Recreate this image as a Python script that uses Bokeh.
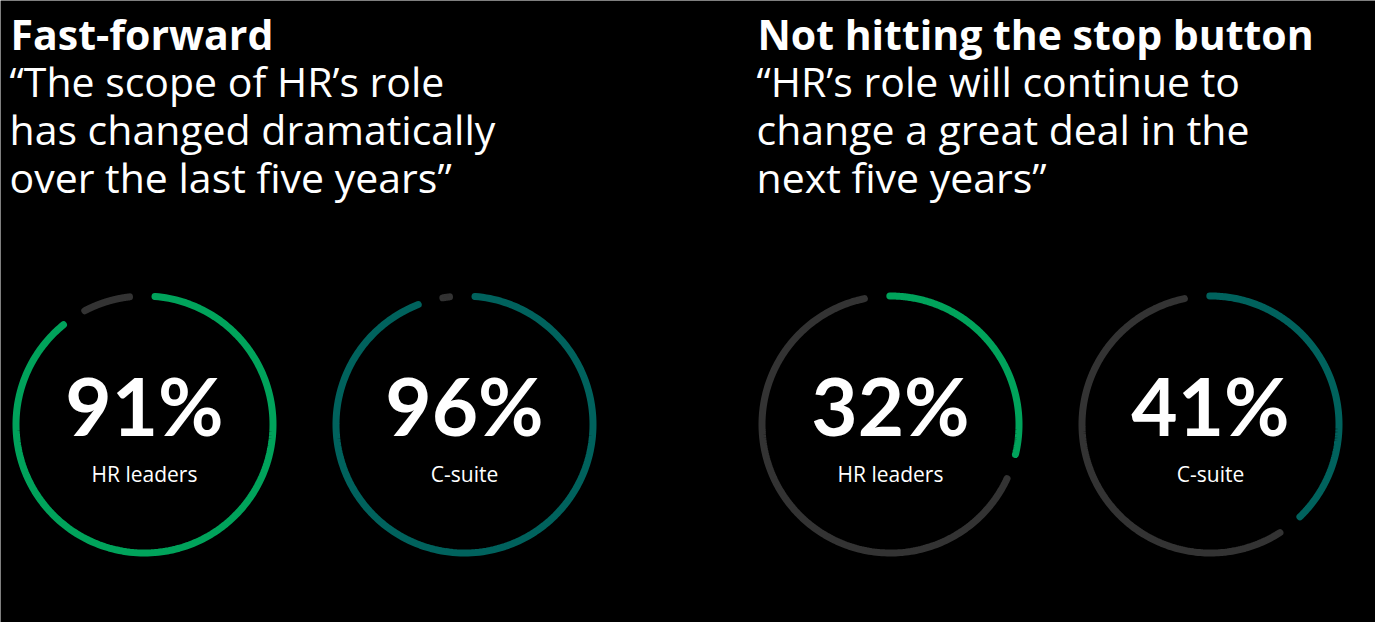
import math
from bokeh.plotting import figure
from bokeh.models import Range1d
from bokeh.core.properties import value
from bokeh.embed import file_html
from bokeh.resources import INLINE

# ---- data ----
headings = ["Fast-forward", "Not hitting the stop button"]
quotes = [
    ["\u201cThe scope of HR\u2019s role", "has changed dramatically", "over the last five years\u201d"],
    ["\u201cHR\u2019s role will continue to", "change a great deal in the", "next five years\u201d"],
]
values = [91, 96, 32, 41]
labels = ["HR leaders", "C-suite", "HR leaders", "C-suite"]
value_texts = ["91%", "96%", "32%", "41%"]

# ---- style / layout ----
GREEN = "#00A35B"
TEAL = "#00625D"
GREY = "#333333"
ring_colors = [GREEN, TEAL, GREEN, TEAL]
centers_x = [144, 464, 890, 1210]
center_y = 424
R = 128.5
LW = 7
GAP = 11.4
offsets = [-1, -1, -6, -6]
head_x = [10, 757]

W, H = 1375, 622
p = figure(width=W, height=H, output_backend="svg", toolbar_location=None,
           x_range=Range1d(0, W), y_range=Range1d(H, 0),
           min_border=0, background_fill_color="black", border_fill_color="black")
p.axis.visible = False
p.grid.visible = False
p.outline_line_color = None

BSHIFT = 0.36  # empirical baseline correction (fraction of font size)


def base(y, size):
    return y - BSHIFT * size


def arc_pts(cx, cy, r, a0, a1, n=200):
    xs, ys = [], []
    for k in range(n + 1):
        a = math.radians(a0 + (a1 - a0) * k / n)
        xs.append(cx + r * math.sin(a))
        ys.append(cy - r * math.cos(a))
    return xs, ys


for i, v in enumerate(values):
    cx = centers_x[i]
    off = offsets[i]
    boundary = off + v * 3.6
    xs, ys = arc_pts(cx, center_y, R, off + GAP / 2, boundary - GAP / 2)
    p.line(xs, ys, line_color=ring_colors[i], line_width=LW, line_cap="round")
    xs, ys = arc_pts(cx, center_y, R, boundary + GAP / 2, off + 360 - GAP / 2)
    p.line(xs, ys, line_color=GREY, line_width=LW, line_cap="round")

# big numbers
NS = 80
p.text(x=centers_x, y=[base(433, NS)] * 4, text=value_texts, text_font=value("Lato"),
       text_font_style="bold", text_font_size=f"{NS}px", text_color="white",
       text_align="center", text_baseline="alphabetic")
# labels
LS = 21
p.text(x=centers_x, y=[base(481, LS)] * 4, text=labels, text_font=value("Open Sans"),
       text_font_size=f"{LS}px", text_color="white",
       text_align="center", text_baseline="alphabetic")

# headings
HS = 41
p.text(x=head_x, y=[base(48, HS)] * 2, text=headings, text_font=value("Open Sans"),
       text_font_style="bold", text_font_size=f"{HS}px", text_color="white",
       text_align="left", text_baseline="alphabetic")
# quote lines
QS = 41
qx, qy, qt = [], [], []
for g, lines in enumerate(quotes):
    for j, t in enumerate(lines):
        qx.append(head_x[g] - 1)
        qy.append(base(95.5 + 48 * j, QS))
        qt.append(t)
p.text(x=qx, y=qy, text=qt, text_font=value("Open Sans"),
       text_font_size=f"{QS}px", text_color="white",
       text_align="left", text_baseline="alphabetic")

open("out.html", "w").write(file_html(p, INLINE))
